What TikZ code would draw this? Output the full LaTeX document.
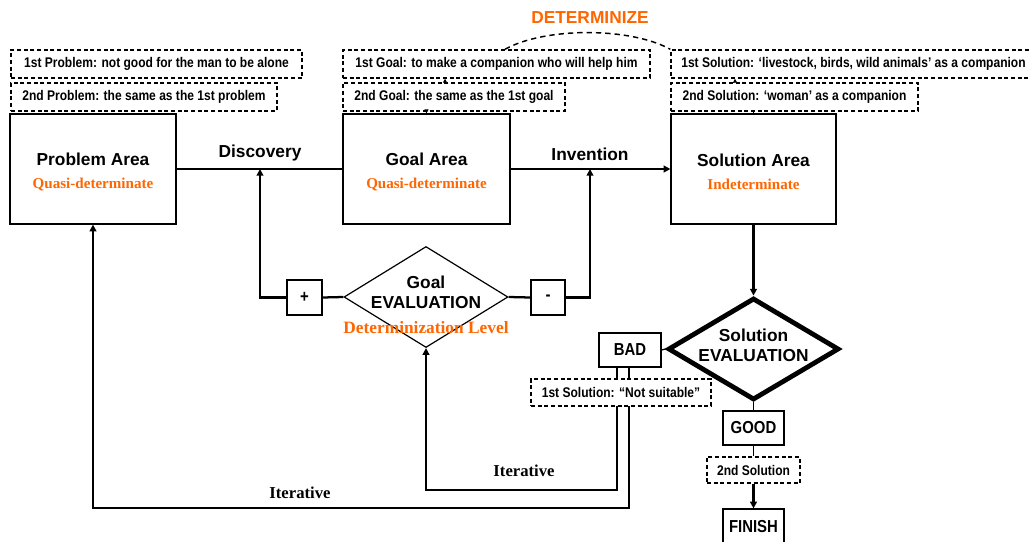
\documentclass[tikz,border=0pt]{standalone}
\usepackage{fontspec}
\setmainfont{Liberation Serif}
\setsansfont{Liberation Sans}
\newfontfamily\narrowsans[FakeStretch=0.86]{Liberation Sans}
\usetikzlibrary{arrows.meta,shapes.geometric}
\definecolor{accent}{RGB}{255,102,0}
\newcommand\areasub[1]{{\rmfamily\bfseries\fontsize{11.3}{13}\selectfont\color{accent}#1}}
\newcommand\areatitle[1]{\rule{0pt}{14pt}#1}
\tikzset{
  x=0.75pt, y=-0.75pt,
  area/.style={draw, line width=0.9pt, fill=white, minimum width=166*0.75pt,
    minimum height=110*0.75pt, align=center, inner sep=0pt,
    font=\sffamily\bfseries\fontsize{13}{17}\selectfont},
  note/.style={draw, dash pattern=on 3pt off 2pt, line width=1.1pt, fill=white,
    minimum height=28*0.75pt, inner sep=0pt,
    font=\narrowsans\bfseries\fontsize{10.5}{12}\selectfont},
  tag/.style={draw, line width=0.9pt, fill=white, inner sep=0pt,
    font=\narrowsans\bfseries\fontsize{13}{14}\selectfont},
  evalshape/.style={draw, shape=diamond, fill=white, inner sep=0pt},
  lbl/.style={font=\sffamily\bfseries\fontsize{13}{15}\selectfont, align=center},
  iter/.style={font=\rmfamily\bfseries\fontsize{12.5}{14}\selectfont},
  link/.style={line width=1.7pt},
  arr/.style={link, -{Triangle[length=5pt,width=5pt]}},
  tinyarr/.style={line width=0.8pt, -{Triangle[length=3pt,width=3pt]}},
}
\begin{document}
\begin{tikzpicture}
\useasboundingbox (0,0) rectangle (1031,542);
\clip (0,0) rectangle (1031,542);

% the three areas
\node[area] (prob) at (93,169) {\areatitle{Problem Area}\\\areasub{Quasi-determinate}};
\node[area, minimum width=167*0.75pt] (goal) at (426.5,169) {\areatitle{Goal Area}\\\areasub{Quasi-determinate}};
\node[area, minimum width=165*0.75pt] (sol) at (753.5,169) {\areatitle{Solution Area}\\\areasub{Indeterminate}};

% notes above the areas
\node[note, minimum width=291*0.75pt] (prob1) at (156.5,64) {1st Problem: not good for the man to be alone};
\node[note, minimum width=266*0.75pt] (prob2) at (144,97) {2nd Problem: the same as the 1st problem};
\node[note, minimum width=307*0.75pt] (goal1) at (496.5,64) {1st Goal: to make a companion who will help him};
\node[note, minimum width=222*0.75pt] (goal2) at (454,97) {2nd Goal: the same as the 1st goal};
\node[note, minimum width=365*0.75pt] (sol1) at (853.5,64) {1st Solution: ‘livestock, birds, wild animals’ as a companion};
\node[note, minimum width=247*0.75pt] (sol2) at (794.5,97) {2nd Solution: ‘woman’ as a companion};

\node[font=\sffamily\bfseries\fontsize{13}{15}\selectfont, text=accent] (det) at (590,18) {DETERMINIZE};
\draw[line width=1.1pt, dash pattern=on 4pt off 3pt]
  ([xshift=6.4pt]goal1.north) .. controls (545,27) and (630,27) .. (sol1.north west);

\draw[tinyarr] ([xshift=-6.75pt]goal2.north) -- ([xshift=-38.6pt]goal1.south);
\draw[tinyarr] (goal2.south -| goal.north) -- (goal.north);
\draw[tinyarr] ([xshift=-44.6pt]sol2.north) -- ([xshift=-88.9pt]sol1.south);
\draw[line width=0.8pt] (sol2.south -| sol.north) -- (sol.north);

% goal evaluation
\node[evalshape, line width=0.9pt, minimum width=164*0.75pt, minimum height=101*0.75pt] (geval) at (426,297) {};
\node[lbl] (gevaltext) at (426,292) {Goal\\EVALUATION};
\node[font=\rmfamily\bfseries\fontsize{13}{15}\selectfont, text=accent] (detlevel) at (426,328) {Determinization Level};
\node[tag, minimum width=35*0.75pt, minimum height=35*0.75pt] (plus) at (304.5,297.5) {+};
\node[tag, minimum width=34*0.75pt, minimum height=35*0.75pt] (minus) at (548,297.5) {-};

\coordinate (disc) at (260,169);
\coordinate (inv) at (590,169);
\node[lbl] (disclbl) at (260,153) {Discovery};
\node[lbl] (invlbl) at (590,154) {Invention};

\draw[link] (prob.east) -- (goal.west);
\draw[arr] (goal.east) -- (sol.west);
\draw[link] (geval.west) -- (plus.east);
\draw[arr] (plus.west) -| (disc);
\draw[link] (geval.east) -- (minus.west);
\draw[arr] (minus.east) -| (inv);

% solution evaluation
\node[evalshape, line width=3.6pt, minimum width=171*0.75pt, minimum height=102*0.75pt] (seval) at (753.5,349) {};
\node[lbl] (sevaltext) at (753.5,345) {Solution\\EVALUATION};
\draw[arr] (sol.south) -- (seval.north);

\node[tag, minimum width=62*0.75pt, minimum height=34*0.75pt] (bad) at (630,350) {BAD};
\node[tag, minimum width=61*0.75pt, minimum height=34*0.75pt] (good) at (753.5,428) {GOOD};
\node[tag, minimum width=61*0.75pt, minimum height=36*0.75pt] (finish) at (753.5,527) {FINISH};
\draw[line width=0.9pt] (seval.west) -- (bad.east);

% feedback loops
\coordinate (innerturn) at (426,490);
\coordinate (outerturn) at (93,508);
\draw[arr] ([xshift=-9.75pt]bad.south) |- (innerturn) -- (geval.south);
\draw[arr] ([xshift=-0.75pt]bad.south) |- (outerturn) -- (prob.south);
\node[iter] (iter1) at (524,471) {Iterative};
\node[iter] (iter2) at (300,493) {Iterative};

\node[note, minimum width=180*0.75pt, minimum height=27*0.75pt] (nots) at (621,392.5) {1st Solution: “Not suitable”};

\node[note, minimum width=93*0.75pt, minimum height=26*0.75pt] (note2) at (753.5,470) {2nd Solution};
\draw[line width=0.9pt] (seval.south) -- (good.north);
\draw[line width=0.9pt] (good.south) -- (note2.north);
\draw[arr] (note2.south) -- (finish.north);
\end{tikzpicture}
\end{document}
